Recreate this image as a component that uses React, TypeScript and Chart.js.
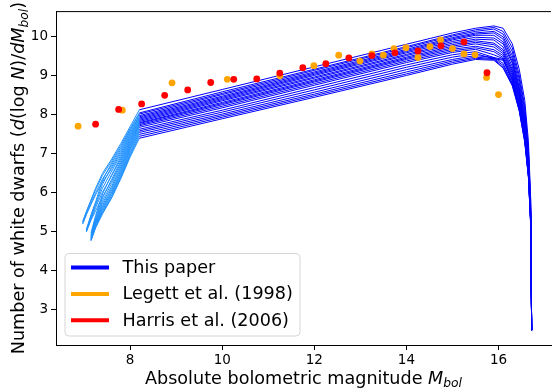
import { useEffect, useRef } from "react";
import { Chart, registerables } from "chart.js";

Chart.register(...registerables);

// Shared absolute bolometric magnitude grid of the model curves
const xGrid = [6.97, 7.05, 7.15, 7.25, 7.4, 7.6, 7.8, 8.0, 8.2, 10, 12, 14, 15, 15.5, 15.9, 16.1, 16.3, 16.45, 16.57, 16.65, 16.7, 16.72];
// Below this magnitude the model curves are drawn light blue
const faintSplit = 8.2;

const modelCurves: (number | null)[][] = [
  [5.22, 5.5, 5.8, 6.1, 6.48, 6.85, 7.25, 7.68, 8.11, 8.63, 9.21, 9.79, 10.08, 10.2, 10.26, 10.2, 9.8, 9.15, 8.35, 7.3, 5.8, 2.46],
  [5.25, 5.5, 5.78, 6.06, 6.43, 6.8, 7.2, 7.63, 8.03, 8.57, 9.15, 9.73, 10.03, 10.16, 10.22, 10.12, 9.7, 9.0, 8.2, 7.1, 5.7, 2.46],
  [null, 5.05, 5.42, 5.75, 6.3, 6.75, 7.15, 7.6, 8.0, 8.53, 9.12, 9.7, 10.0, 10.12, 10.18, 10.05, 9.6, 8.9, 8.1, 7.0, 5.6, 2.46],
  [5.2, 5.45, 5.72, 5.98, 6.34, 6.7, 7.1, 7.56, 7.96, 8.5, 9.08, 9.66, 9.96, 10.08, 10.12, 9.98, 9.5, 8.8, 8.0, 6.95, 5.5, 2.46],
  [null, 5.0, 5.36, 5.7, 6.2, 6.65, 7.05, 7.52, 7.93, 8.46, 9.05, 9.63, 9.93, 10.05, 10.08, 9.92, 9.42, 8.7, 7.9, 6.9, 5.5, 2.46],
  [5.18, 5.42, 5.68, 5.93, 6.26, 6.6, 7.0, 7.48, 7.9, 8.43, 9.02, 9.6, 9.9, 10.02, 10.02, 9.85, 9.35, 8.65, 7.85, 6.85, 5.45, 2.46],
  [null, 5.02, 5.36, 5.66, 6.1, 6.54, 6.95, 7.44, 7.87, 8.4, 8.99, 9.57, 9.86, 9.97, 9.95, 9.8, 9.3, 8.6, 7.8, 6.8, 5.4, 2.46],
  [null, null, 4.95, 5.4, 5.95, 6.45, 6.9, 7.4, 7.84, 8.37, 8.95, 9.53, 9.82, 9.92, 9.9, 9.72, 9.22, 8.55, 7.75, 6.75, 5.4, 2.46],
  [null, 4.98, 5.3, 5.6, 6.0, 6.42, 6.85, 7.36, 7.81, 8.34, 8.92, 9.5, 9.78, 9.88, 9.82, 9.65, 9.15, 8.5, 7.7, 6.7, 5.35, 2.46],
  [null, null, 4.9, 5.35, 5.85, 6.33, 6.8, 7.32, 7.78, 8.3, 8.88, 9.46, 9.74, 9.84, 9.78, 9.6, 9.1, 8.45, 7.65, 6.65, 5.35, 2.46],
  [null, 5.0, 5.28, 5.52, 5.88, 6.28, 6.75, 7.28, 7.76, 8.27, 8.85, 9.43, 9.7, 9.8, 9.72, 9.55, 9.05, 8.4, 7.6, 6.6, 5.3, 2.46],
  [null, null, 4.88, 5.3, 5.78, 6.22, 6.7, 7.24, 7.73, 8.24, 8.82, 9.4, 9.66, 9.74, 9.65, 9.5, 9.0, 8.35, 7.55, 6.55, 5.3, 2.46],
  [null, null, 4.85, 5.27, 5.72, 6.15, 6.65, 7.2, 7.7, 8.2, 8.78, 9.36, 9.62, 9.7, 9.6, 9.45, 8.95, 8.3, 7.5, 6.5, 5.25, 2.46],
  [null, null, 4.83, 5.24, 5.66, 6.1, 6.6, 7.16, 7.66, 8.16, 8.74, 9.32, 9.58, 9.66, 9.52, 9.42, 8.9, 8.25, 7.45, 6.5, 5.25, 2.46],
  [null, null, 4.8, 5.21, 5.62, 6.05, 6.55, 7.12, 7.61, 8.1, 8.68, 9.26, 9.52, 9.6, 9.45, 9.4, 8.88, 8.2, 7.4, 6.45, 5.2, 2.46],
  [null, null, 4.8, 5.19, 5.58, 6.0, 6.5, 7.08, 7.57, 8.05, 8.62, 9.2, 9.46, 9.55, 9.42, 9.38, 8.85, 8.18, 7.38, 6.45, 5.2, 2.46],
  [null, null, 4.78, 5.16, 5.54, 5.96, 6.46, 7.03, 7.53, 8.0, 8.56, 9.14, 9.4, 9.5, 9.45, 9.3, 8.8, 8.15, 7.35, 6.4, 5.2, 2.46],
  [null, null, 4.77, 5.13, 5.5, 5.92, 6.42, 6.98, 7.48, 7.96, 8.51, 9.08, 9.36, 9.46, 9.42, 9.25, 8.78, 8.12, 7.32, 6.4, 5.15, 2.46],
  [null, null, 4.76, 5.11, 5.47, 5.88, 6.38, 6.94, 7.43, 7.92, 8.47, 9.03, 9.32, 9.43, 9.4, 9.2, 8.75, 8.1, 7.3, 6.4, 5.15, 2.46],
  [null, null, 4.75, 5.08, 5.44, 5.85, 6.35, 6.9, 7.38, 7.88, 8.43, 8.99, 9.28, 9.4, 9.38, 9.18, 8.72, 8.08, 7.28, 6.38, 5.1, 2.46],
];

// Legett et al. (1998)
const legettX = [6.87, 7.83, 8.91, 10.11, 11.25, 11.99, 12.53, 12.99, 13.25, 13.5, 13.73, 13.99, 14.25, 14.51, 14.74, 15.0, 15.25, 15.49, 15.74, 16.0];
const legettY = [7.69, 8.1, 8.8, 8.89, 8.98, 9.24, 9.51, 9.36, 9.54, 9.51, 9.68, 9.7, 9.45, 9.73, 9.9, 9.68, 9.54, 9.52, 8.94, 8.5];

// Harris et al. (2006)
const harrisX = [7.25, 7.75, 8.25, 8.75, 9.25, 9.75, 10.25, 10.75, 11.25, 11.75, 12.25, 12.75, 13.25, 13.75, 14.25, 14.75, 15.25, 15.75];
const harrisY = [7.74, 8.12, 8.26, 8.48, 8.62, 8.81, 8.89, 8.9, 9.05, 9.19, 9.29, 9.44, 9.5, 9.57, 9.62, 9.75, 9.85, 9.06];

const xTicks = [8, 10, 12, 14, 16];
const yTicks = [3, 4, 5, 6, 7, 8, 9, 10];

const legendLabels = ["This paper", "Legett et al. (1998)", "Harris et al. (2006)"];
const legendColors = ["#0000ff", "#ffa500", "#ff0000"];
const faintColor = "#1e90ff";

type Part = { t: string; it?: boolean; sub?: boolean };
const xTitle: Part[] = [
  { t: "Absolute bolometric magnitude " },
  { t: "M", it: true },
  { t: "bol", it: true, sub: true },
];
const yTitle: Part[] = [
  { t: "Number of white dwarfs (" },
  { t: "d", it: true },
  { t: "(log " },
  { t: "N", it: true },
  { t: ")/" },
  { t: "dM", it: true },
  { t: "bol", it: true, sub: true },
  { t: ")" },
];

const FONT = "'DejaVu Sans', sans-serif";

function drawRich(ctx: CanvasRenderingContext2D, parts: Part[], cx: number, y: number, size: number) {
  const fontFor = (p: Part) => `${p.it ? "italic " : ""}${p.sub ? size * 0.7 : size}px ${FONT}`;
  let total = 0;
  for (const p of parts) {
    ctx.font = fontFor(p);
    total += ctx.measureText(p.t).width;
  }
  let x = cx - total / 2;
  ctx.textAlign = "left";
  ctx.textBaseline = "alphabetic";
  for (const p of parts) {
    ctx.font = fontFor(p);
    ctx.fillText(p.t, x, y + (p.sub ? size * 0.22 : 0));
    x += ctx.measureText(p.t).width;
  }
}

const decorPlugin = {
  id: "decor",
  afterDraw(chart: any) {
    const ctx: CanvasRenderingContext2D = chart.ctx;
    const a = chart.chartArea;
    ctx.save();
    // top spine
    ctx.strokeStyle = "#000";
    ctx.lineWidth = 1;
    ctx.beginPath();
    ctx.moveTo(a.left, a.top + 0.5);
    ctx.lineTo(a.right, a.top + 0.5);
    ctx.stroke();

    ctx.fillStyle = "#000";
    drawRich(ctx, xTitle, (a.left + a.right) / 2, 383.5, 17.6);

    ctx.save();
    ctx.translate(24, (a.top + a.bottom) / 2);
    ctx.rotate(-Math.PI / 2);
    drawRich(ctx, yTitle, 0, 0, 17.6);
    ctx.restore();

    // legend
    const bx = 65, by = 253.5, bw = 235, bh = 82.5, r = 4;
    ctx.beginPath();
    ctx.moveTo(bx + r, by);
    ctx.arcTo(bx + bw, by, bx + bw, by + bh, r);
    ctx.arcTo(bx + bw, by + bh, bx, by + bh, r);
    ctx.arcTo(bx, by + bh, bx, by, r);
    ctx.arcTo(bx, by, bx + bw, by, r);
    ctx.closePath();
    ctx.fillStyle = "rgba(255,255,255,0.8)";
    ctx.fill();
    ctx.strokeStyle = "#d6d6d6";
    ctx.lineWidth = 1;
    ctx.stroke();

    legendLabels.forEach((lab, i) => {
      const cy = 267.5 + i * 26.4;
      ctx.strokeStyle = legendColors[i];
      ctx.lineWidth = 4;
      ctx.beginPath();
      ctx.moveTo(71, cy);
      ctx.lineTo(109, cy);
      ctx.stroke();
      ctx.fillStyle = "#000";
      ctx.font = `17.6px ${FONT}`;
      ctx.textAlign = "left";
      ctx.textBaseline = "middle";
      ctx.fillText(lab, 122.5, cy + 1);
    });
    ctx.restore();
  },
};

export default function App() {
  const ref = useRef<HTMLCanvasElement | null>(null);
  useEffect(() => {
    document.body.style.margin = "0";
    const canvas = ref.current!;
    const curveSets = modelCurves.map((ys) => ({
      type: "line" as const,
      data: xGrid
        .map((x, i) => ({ x, y: ys[i] }))
        .filter((p) => p.y !== null),
      borderColor: legendColors[0],
      borderWidth: 1,
      pointRadius: 0,
      showLine: true,
      fill: false,
      tension: 0,
      order: 3,
      segment: {
        borderColor: (c: any) => (c.p1.parsed.x <= faintSplit + 1e-9 ? faintColor : legendColors[0]),
      },
    }));
    const chart = new Chart(canvas, {
      type: "scatter",
      data: {
        datasets: [
          ...curveSets,
          {
            type: "scatter" as const,
            data: legettX.map((x, i) => ({ x, y: legettY[i] })),
            backgroundColor: legendColors[1],
            borderWidth: 0,
            pointRadius: 3.4,
            order: 2,
          },
          {
            type: "scatter" as const,
            data: harrisX.map((x, i) => ({ x, y: harrisY[i] })),
            backgroundColor: legendColors[2],
            borderWidth: 0,
            pointRadius: 3.4,
            order: 1,
          },
        ] as any,
      },
      options: {
        animation: false,
        responsive: false,
        devicePixelRatio: 1,
        layout: { padding: { top: 9, right: 0, left: 0, bottom: 0 } },
        plugins: { legend: { display: false }, tooltip: { enabled: false } },
        scales: {
          x: {
            type: "linear",
            min: 6.39,
            max: 17.14,
            afterBuildTicks: (s: any) => {
              s.ticks = xTicks.map((v) => ({ value: v }));
            },
            afterFit: (s: any) => {
              s.height = 47;
            },
            grid: { display: true, drawOnChartArea: false, drawTicks: true, tickLength: 5, color: "#000", lineWidth: 1 },
            border: { display: true, color: "#000", width: 1 },
            ticks: { color: "#000", font: { family: FONT, size: 13.5 }, padding: 2, maxRotation: 0, autoSkip: false },
          },
          y: {
            type: "linear",
            min: 2.08,
            max: 10.64,
            afterBuildTicks: (s: any) => {
              s.ticks = yTicks.map((v) => ({ value: v }));
            },
            afterFit: (s: any) => {
              s.width = 56;
            },
            grid: { display: true, drawOnChartArea: false, drawTicks: true, tickLength: 5, color: "#000", lineWidth: 1 },
            border: { display: true, color: "#000", width: 1 },
            ticks: { color: "#000", font: { family: FONT, size: 13.5 }, padding: 3, autoSkip: false },
          },
        },
      },
      plugins: [decorPlugin],
    });
    return () => chart.destroy();
  }, []);
  return (
    <div style={{ width: 555, height: 392 }}>
      <canvas ref={ref} width={555} height={392} style={{ display: "block", width: 555, height: 392 }} />
    </div>
  );
}
